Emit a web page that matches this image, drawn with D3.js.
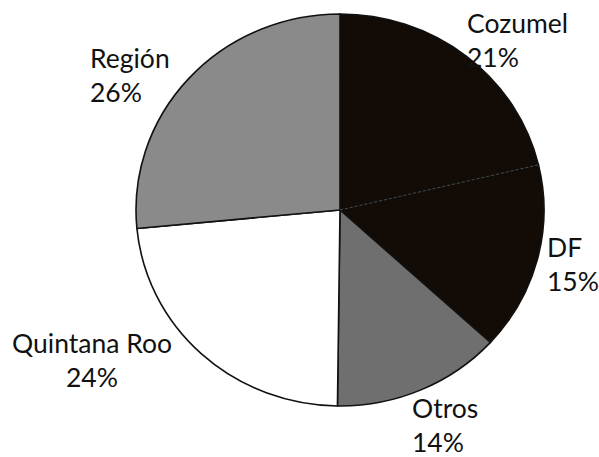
<!DOCTYPE html>
<html><head><meta charset="utf-8">
<script src="https://cdn.jsdelivr.net/npm/d3@7"></script>
<style>html,body{margin:0;padding:0;background:#fff;}svg{display:block;}</style>
</head><body>
<svg id="chart" width="599" height="457"></svg>
<script>
const categories = ["Cozumel", "DF", "Otros", "Quintana Roo", "Región"];
const values = [21.3, 15.5, 13.4, 23.3, 26.5];
const pctLabels = ["21%", "15%", "14%", "24%", "26%"];
const colors = ["#130c06", "#130c06", "#6f6f6f", "#ffffff", "#8a8a8a"];

const svg = d3.select("#chart");
const cx = 340, cy = 210, rx = 204, ry = 196;
const data = categories.map((c, i) => ({cat: c, value: values[i], label: pctLabels[i], color: colors[i]}));
const pie = d3.pie().value(d => d.value).sort(null);
const arcs = pie(data);
const arc = d3.arc().innerRadius(0).outerRadius(rx);

const g = svg.append("g").attr("transform", `translate(${cx},${cy}) scale(1,${ry/rx})`);
g.selectAll("path.slice").data(arcs).enter().append("path")
  .attr("class", "slice")
  .attr("d", arc)
  .attr("fill", d => d.data.color)
  .attr("stroke", "#111")
  .attr("stroke-width", 1.6)
  .attr("vector-effect", "non-scaling-stroke")
  .attr("stroke-linejoin", "round");

// faint separator between the two dark slices
const sep = arcs[0].endAngle;
g.append("line")
  .attr("x1", 0).attr("y1", 0)
  .attr("x2", rx * Math.sin(sep)).attr("y2", -rx * Math.cos(sep))
  .attr("stroke", "#555").attr("stroke-width", 0.8)
  .attr("stroke-dasharray", "3,2")
  .attr("vector-effect", "non-scaling-stroke");

// label layout (text block anchor points)
const labelPos = [
  {x: 467, y: 33, anchor: "start"},
  {x: 547, y: 257, anchor: "start"},
  {x: 412, y: 418, anchor: "start"},
  {x: 92, y: 353, anchor: "middle"},
  {x: 90, y: 68, anchor: "start"}
];
const lg = svg.append("g").attr("font-family", "Lato, 'Open Sans', sans-serif").attr("font-size", 26.5).attr("fill", "#111");
arcs.forEach((a, i) => {
  const p = labelPos[i];
  const t = lg.append("text").attr("x", p.x).attr("y", p.y).attr("text-anchor", p.anchor);
  t.append("tspan").attr("x", p.x).attr("dy", 0).text(a.data.cat);
  t.append("tspan").attr("x", p.x).attr("dy", 34).text(a.data.label);
});
</script>
</body></html>
